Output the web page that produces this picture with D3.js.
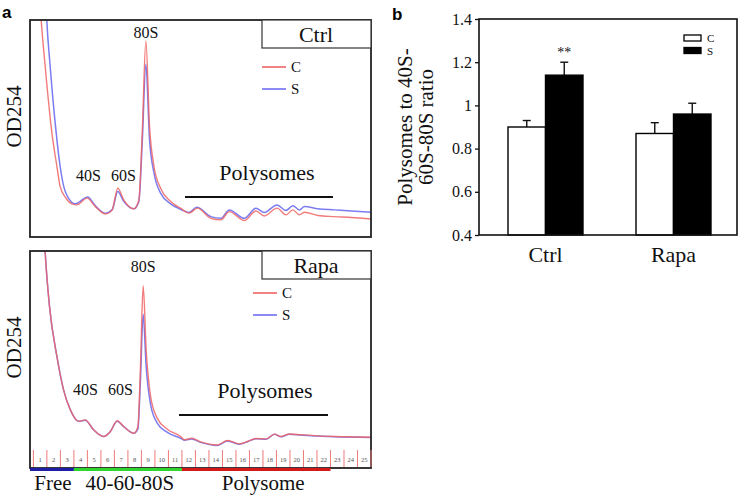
<!DOCTYPE html>
<html><head><meta charset="utf-8">
<script src="https://cdn.jsdelivr.net/npm/d3@7"></script>
<style>
body{margin:0;background:#fff}
svg{display:block}
</style>
</head><body>
<svg id="chart" width="743" height="497" font-family="Liberation Serif, Times New Roman, serif"></svg>
<script>
// ---------- Panel a: polysome profiles (position in fraction units, OD254 relative) ----------
const ctrlPosC = [0.37,0.57,0.87,1.37,1.74,1.98,2.36,2.85,3.22,3.97,4.59,5.33,5.83,6.25,6.69,7.44,7.81,8.06,8.33,8.60,8.93,9.42,10.16,10.90,11.53,12.15,13.14,13.88,14.50,15.62,16.48,17.10,18.04,18.71,19.21,19.70,20.08,21.07,22.31,23.55,25.0];
const ctrlC    = [1.19,1.005,0.789,0.480,0.326,0.233,0.184,0.153,0.148,0.179,0.140,0.106,0.125,0.225,0.171,0.130,0.171,0.480,0.904,0.511,0.326,0.225,0.164,0.133,0.110,0.133,0.086,0.079,0.117,0.076,0.120,0.097,0.133,0.102,0.125,0.102,0.114,0.099,0.094,0.090,0.083];
const ctrlPosS = [0.87,0.99,1.24,1.69,1.98,2.28,2.60,3.10,4.02,4.59,5.33,5.83,6.25,6.69,7.44,7.81,8.06,8.33,8.60,8.93,9.42,10.16,10.90,11.53,12.10,13.14,13.88,14.50,15.62,16.48,17.10,18.04,18.71,19.21,19.70,20.08,21.07,22.31,23.55,25.0];
const ctrlS    = [1.19,1.005,0.789,0.480,0.326,0.225,0.179,0.153,0.184,0.144,0.110,0.125,0.210,0.164,0.130,0.164,0.434,0.796,0.449,0.295,0.202,0.153,0.128,0.113,0.137,0.094,0.086,0.125,0.086,0.133,0.113,0.148,0.122,0.144,0.125,0.140,0.130,0.125,0.120,0.114];

const rapaPos  = [0.75,0.87,1.19,1.74,2.23,2.73,3.35,3.84,4.46,5.21,5.70,6.20,6.69,7.44,7.74,7.93,8.13,8.35,8.68,9.17,9.92,10.91,11.20,11.73,12.39,13.63,14.38,15.24,15.86,16.48,17.23,17.85,18.34,18.96,19.83,21.07,22.31,25.0];
const rapaC    = [1.148,1.00,0.747,0.515,0.361,0.269,0.215,0.222,0.176,0.145,0.168,0.218,0.191,0.160,0.191,0.469,0.840,0.546,0.330,0.230,0.179,0.145,0.130,0.137,0.120,0.106,0.127,0.111,0.122,0.136,0.134,0.156,0.145,0.157,0.153,0.148,0.145,0.142];
const rapaS    = [1.148,1.00,0.747,0.515,0.361,0.269,0.215,0.220,0.176,0.145,0.168,0.216,0.191,0.160,0.180,0.407,0.708,0.469,0.292,0.207,0.164,0.137,0.128,0.134,0.118,0.104,0.125,0.110,0.121,0.135,0.133,0.155,0.144,0.156,0.152,0.147,0.144,0.141];

const fractions = [1,2,3,4,5,6,7,8,9,10,11,12,13,14,15,16,17,18,19,20,21,22,23,24,25];
const regionNames  = ["Free","40-60-80S","Polysome"];
const regionStart  = [-0.25,3,11];
const regionEnd    = [3,11,22];
const regionColors = ["#1f1fa6","#2ed62e","#d21a1a"];

const peakNames = ["40S","60S","80S"];
const ctrlPeakPos = [4.07,6.67,8.33];
const rapaPeakPos = [3.85,6.45,8.13];

// ---------- Panel b: polysome / (40S-60S-80S) ratio ----------
const groups = ["Ctrl","Rapa"];
const seriesNames = ["C","S"];
const ratioC = [0.90,0.87];
const ratioS = [1.14,0.96];
const errC = [0.03,0.05];
const errS = [0.06,0.05];
const yTicks = [0.4,0.6,0.8,1.0,1.2,1.4];

const SERIF = "Liberation Serif, Times New Roman, serif";
const colRed = "#ee6464", colBlue = "#6e6ef0";
const svg = d3.select("#chart");
function txt(g, s, size){
  return g.append("text").style("font-family",SERIF).style("font-size",size+"px").attr("fill","#111").text(s);
}

// letters
svg.append("text").attr("x",2).attr("y",18).style("font-family","Liberation Sans, Arial, sans-serif")
  .style("font-weight","bold").style("font-size","17px").text("a");
svg.append("text").attr("x",392).attr("y",20).style("font-family","Liberation Sans, Arial, sans-serif")
  .style("font-weight","bold").style("font-size","17px").text("b");

const x = d3.scaleLinear().domain([-0.25,25]).range([30,371]);

function panel(opts){
  const y = d3.scaleLinear().domain([0,1]).range([opts.bottom, opts.top]);
  const g = svg.append("g");
  const clipId = "clip"+opts.name;
  svg.append("clipPath").attr("id",clipId).append("rect")
    .attr("x",x.range()[0]).attr("y",opts.top).attr("width",x.range()[1]-x.range()[0]).attr("height",opts.bottom-opts.top);
  const line = d3.line().x(d=>x(d[0])).y(d=>y(d[1])).curve(d3.curveMonotoneX);
  const cg = g.append("g").attr("clip-path",`url(#${clipId})`);
  cg.append("path").datum(d3.zip(opts.posS,opts.valS)).attr("d",line)
    .attr("fill","none").attr("stroke",colBlue).attr("stroke-width",1.5).attr("opacity",0.9);
  cg.append("path").datum(d3.zip(opts.posC,opts.valC)).attr("d",line)
    .attr("fill","none").attr("stroke",colRed).attr("stroke-width",1.4).attr("opacity",0.85);
  // frame
  g.append("rect").attr("x",x.range()[0]).attr("y",opts.top).attr("width",x.range()[1]-x.range()[0])
    .attr("height",opts.bottom-opts.top).attr("fill","none").attr("stroke","#222").attr("stroke-width",1.8);
  // label box
  g.append("rect").attr("x",262).attr("y",opts.top).attr("width",x.range()[1]-262).attr("height",28)
    .attr("fill","#fff").attr("stroke","#333").attr("stroke-width",1.2);
  txt(g, opts.name, 22).attr("x",316).attr("y",opts.top+22).attr("text-anchor","middle");
  // legend
  [["C",colRed],["S",colBlue]].forEach((d,i)=>{
    const ly = opts.legY + i*22;
    g.append("line").attr("x1",opts.legX).attr("x2",opts.legX+24).attr("y1",ly).attr("y2",ly)
      .attr("stroke",d[1]).attr("stroke-width",1.6);
    txt(g, d[0], 15).attr("x",opts.legX+29).attr("y",ly+5);
  });
  // peak labels
  peakNames.forEach((p,i)=>{
    txt(g, p, 16).attr("x",x(opts.peakPos[i])).attr("y", i===2 ? opts.top+opts.lab80 : opts.top+opts.lab4060)
      .attr("text-anchor","middle");
  });
  txt(g, "Polysomes", 22).attr("x",opts.polyX).attr("y",opts.top+opts.polyY).attr("text-anchor","middle");
  g.append("line").attr("x1",opts.barX1).attr("x2",opts.barX2).attr("y1",opts.top+opts.polyY+17).attr("y2",opts.top+opts.polyY+17)
    .attr("stroke","#111").attr("stroke-width",2.2);
  // y label
  txt(g, "OD254", 21).attr("transform",`translate(21,${(opts.top+opts.bottom)/2 - 12}) rotate(-90)`)
    .attr("text-anchor","middle");
  return y;
}

panel({name:"Ctrl",top:20,bottom:237,posC:ctrlPosC,valC:ctrlC,posS:ctrlPosS,valS:ctrlS,
  legX:262,legY:67,peakPos:ctrlPeakPos,lab80:18,lab4060:161,polyX:267,polyY:160,barX1:185,barX2:333});
panel({name:"Rapa",top:251,bottom:468,posC:rapaPos,valC:rapaC,posS:rapaPos,valS:rapaS,
  legX:253,legY:293,peakPos:rapaPeakPos,lab80:21,lab4060:144,polyX:265,polyY:147,barX1:179,barX2:328});

// fraction strip
const strip = svg.append("g");
const stripTop = 450, stripBot = 467;
fractions.forEach(f=>{
  strip.append("line").attr("x1",x(f-1)).attr("x2",x(f-1)).attr("y1",stripTop).attr("y2",stripBot)
    .attr("stroke","#f07a7a").attr("stroke-width",1);
  txt(strip, f, 6.5).attr("x",x(f-0.5)).attr("y",stripTop+12).attr("text-anchor","middle").attr("fill","#555");
});
strip.append("line").attr("x1",x(25)).attr("x2",x(25)).attr("y1",stripTop).attr("y2",stripBot)
  .attr("stroke","#f07a7a").attr("stroke-width",1);
regionNames.forEach((r,i)=>{
  strip.append("line").attr("x1",x(regionStart[i])).attr("x2",x(regionEnd[i])).attr("y1",469.5).attr("y2",469.5)
    .attr("stroke",regionColors[i]).attr("stroke-width",3);
});
const labOff = [1, 2, 7];
regionNames.forEach((r,i)=>{
  txt(strip, r, 21).attr("x",x((regionStart[i]+regionEnd[i])/2)+labOff[i]).attr("y",490).attr("text-anchor","middle");
});

// ---------- Panel b ----------
const bL = 479, bR = 737, bT = 19, bB = 235;
const yb = d3.scaleLinear().domain([0.4,1.4]).range([bB,bT]);
const xg = d3.scaleBand().domain(groups).range([481.5,737.5]);
const xs = d3.scaleBand().domain(seriesNames).range([0,xg.bandwidth()]).paddingOuter(0.707).paddingInner(0);
const gb = svg.append("g");
const vals = {C:ratioC,S:ratioS}, errs = {C:errC,S:errS};
groups.forEach((grp,gi)=>{
  seriesNames.forEach(s=>{
    const bx = xg(grp)+xs(s), w = xs.bandwidth(), v = vals[s][gi], e = errs[s][gi];
    const cx = bx + w/2;
    gb.append("line").attr("x1",cx).attr("x2",cx).attr("y1",yb(v)).attr("y2",yb(v+e)).attr("stroke","#111").attr("stroke-width",1.4);
    gb.append("line").attr("x1",cx-4).attr("x2",cx+4).attr("y1",yb(v+e)).attr("y2",yb(v+e)).attr("stroke","#111").attr("stroke-width",1.4);
    gb.append("rect").attr("x",bx).attr("y",yb(v)).attr("width",w).attr("height",yb(0.4)-yb(v))
      .attr("fill", s==="C" ? "#fff" : "#000").attr("stroke","#000").attr("stroke-width",1.4);
  });
});
// significance
txt(gb, "**", 14).attr("x",xg("Ctrl")+xs("S")+xs.bandwidth()/2).attr("y",yb(ratioS[0]+errS[0])-5).attr("text-anchor","middle");
// frame
gb.append("rect").attr("x",bL).attr("y",bT).attr("width",bR-bL).attr("height",bB-bT)
  .attr("fill","none").attr("stroke","#111").attr("stroke-width",1.6);
// y axis
const ya = gb.append("g").attr("transform",`translate(${bL},0)`)
  .call(d3.axisLeft(yb).tickValues(yTicks).tickSize(4).tickPadding(3).tickFormat(d=>String(+d.toFixed(1))));
ya.select(".domain").remove();
ya.selectAll("line").attr("stroke","#111").attr("stroke-width",1.3);
ya.selectAll("text").style("font-family",SERIF).style("font-size","16px").attr("fill","#111");
// x labels
groups.forEach(grp=>{
  txt(gb, grp, 22).attr("x",xg(grp)+xg.bandwidth()/2).attr("y",262).attr("text-anchor","middle");
});
// y title
const yt = gb.append("text").attr("transform",`translate(412,${(bT+bB)/2}) rotate(-90)`)
  .attr("text-anchor","middle").style("font-family",SERIF).style("font-size","21px").attr("fill","#111");
yt.append("tspan").attr("x",0).attr("dy",0).text("Polysomes to 40S-");
yt.append("tspan").attr("x",0).attr("dy",21).text("60S-80S ratio");
// legend
seriesNames.forEach((s,i)=>{
  gb.append("rect").attr("x",684).attr("y",35+i*12.5).attr("width",17).attr("height",6)
    .attr("fill", s==="C" ? "#fff":"#000").attr("stroke","#000").attr("stroke-width",1.3);
  txt(gb, s, 11).attr("x",707).attr("y",42+i*12.5);
});
</script>
</body></html>
